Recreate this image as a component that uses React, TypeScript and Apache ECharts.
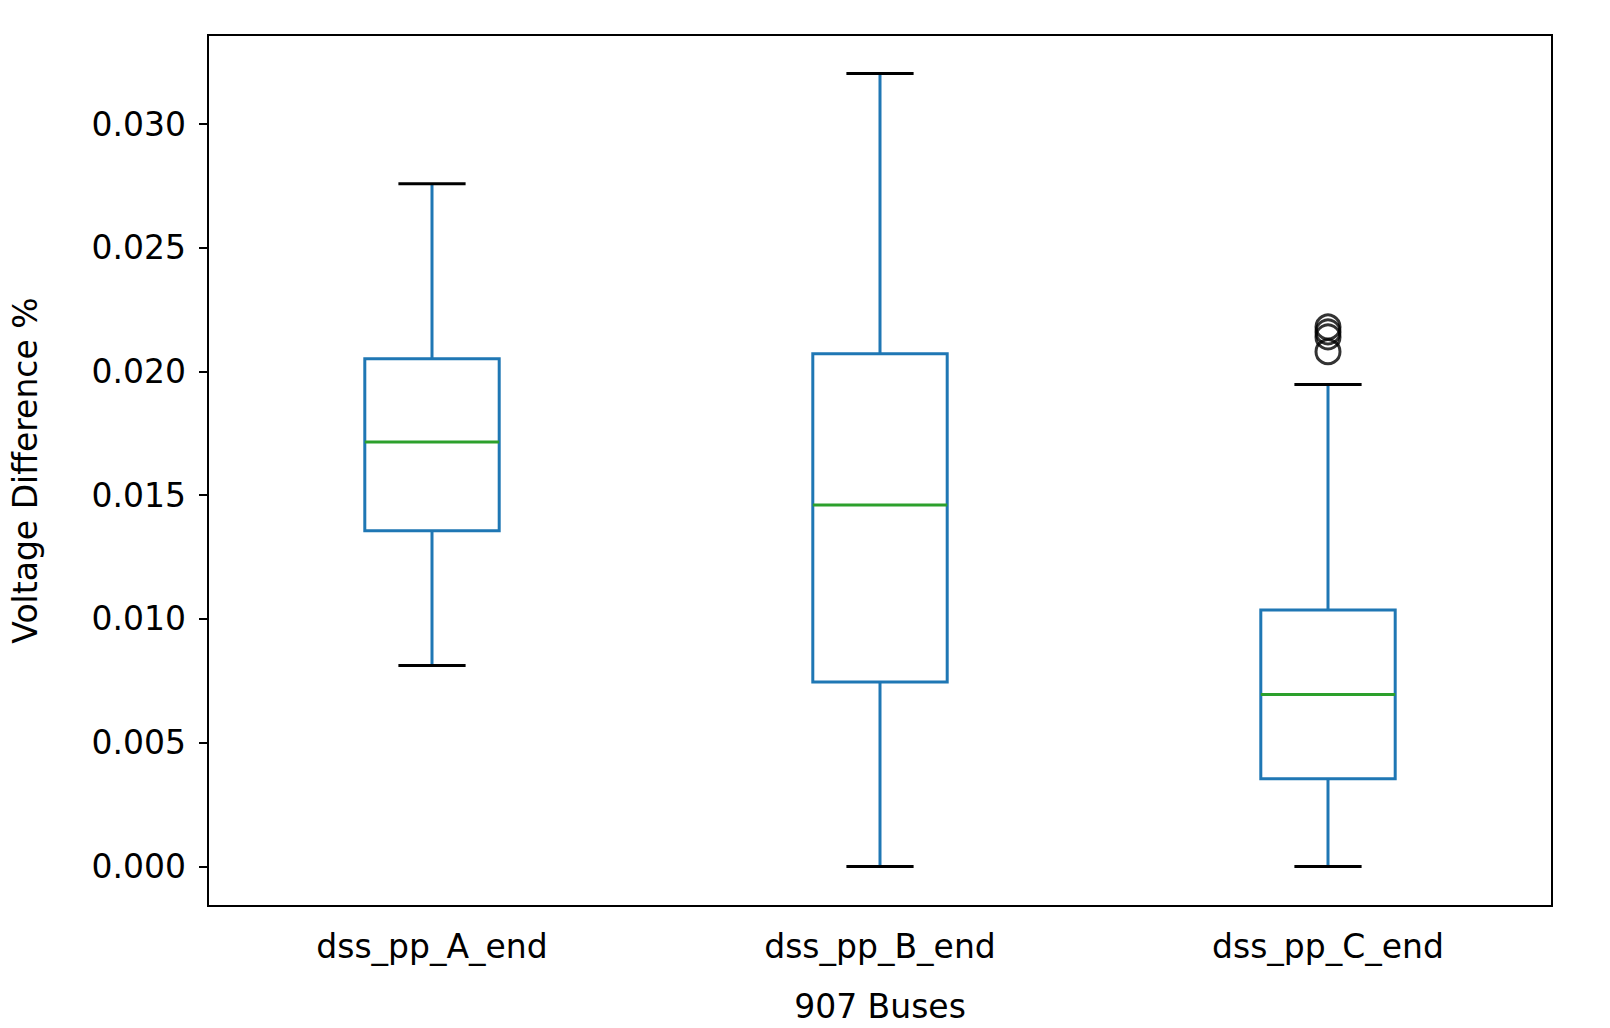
import React, { useEffect, useRef } from 'react';
import * as echarts from 'echarts';

const categories = ['dss_pp_A_end', 'dss_pp_B_end', 'dss_pp_C_end'];
// [min, q1, median, q3, max]
const boxStats = [
  [0.00812, 0.01357, 0.01715, 0.02052, 0.02759],
  [0.0, 0.00745, 0.01461, 0.02072, 0.03204],
  [0.0, 0.00354, 0.00695, 0.01036, 0.01948],
];
const outliers = [
  [2, 0.0208],
  [2, 0.0214],
  [2, 0.0216],
  [2, 0.0218],
];
const yTicks = [0, 0.005, 0.01, 0.015, 0.02, 0.025, 0.03];

const App: React.FC = () => {
  const chartRef = useRef<HTMLDivElement>(null);

  useEffect(() => {
    if (!chartRef.current) return;
    const chart = echarts.init(chartRef.current, null, { renderer: 'svg' });
    const font = 'DejaVu Sans';

    const renderBox = (params: any, api: any) => {
      const i = api.value(0);
      const [lo, q1, med, q3, hi] = [1, 2, 3, 4, 5].map((k) => api.value(k));
      const x = api.coord([i, lo])[0];
      const band = api.size([1, 0])[0];
      const w = band * 0.3;
      const capW = w / 2;
      const y = (v: number) => api.coord([i, v])[1];
      const blue = { stroke: '#1f77b4', lineWidth: 3, fill: 'none' };
      const black = { stroke: '#000', lineWidth: 3 };
      return {
        type: 'group',
        children: [
          { type: 'rect', shape: { x: x - w / 2, y: y(q3), width: w, height: y(q1) - y(q3) }, style: { ...blue } },
          { type: 'line', shape: { x1: x, y1: y(q3), x2: x, y2: y(hi) }, style: blue },
          { type: 'line', shape: { x1: x, y1: y(q1), x2: x, y2: y(lo) }, style: blue },
          { type: 'line', shape: { x1: x - capW / 2, y1: y(hi), x2: x + capW / 2, y2: y(hi) }, style: black },
          { type: 'line', shape: { x1: x - capW / 2, y1: y(lo), x2: x + capW / 2, y2: y(lo) }, style: black },
          { type: 'line', shape: { x1: x - w / 2, y1: y(med), x2: x + w / 2, y2: y(med) }, style: { stroke: '#2ca02c', lineWidth: 3 } },
        ],
      };
    };

    chart.setOption({
      animation: false,
      grid: { left: 208, right: 58, top: 35, bottom: 122, show: true, borderColor: '#000', borderWidth: 2, backgroundColor: '#fff' },
      xAxis: {
        type: 'category',
        data: categories,
        name: '907 Buses',
        nameLocation: 'middle',
        nameGap: 84,
        nameTextStyle: { fontFamily: font, fontSize: 33, color: '#000' },
        axisLine: { onZero: false, lineStyle: { color: '#000', width: 2 } },
        axisTick: { alignWithLabel: true, length: 9, lineStyle: { color: '#000', width: 2 } },
        axisLabel: { fontFamily: font, fontSize: 33, color: '#000', margin: 24 },
      },
      yAxis: {
        type: 'value',
        min: -0.0016,
        max: 0.0336,
        name: 'Voltage Difference %',
        nameLocation: 'middle',
        nameGap: 166,
        nameTextStyle: { fontFamily: font, fontSize: 33, color: '#000' },
        splitLine: { show: false },
        axisLine: { show: true, lineStyle: { color: '#000', width: 2 } },
        axisTick: { show: true, length: 9, lineStyle: { color: '#000', width: 2 }, customValues: yTicks },
        axisLabel: {
          fontFamily: font, fontSize: 33, color: '#000', margin: 22,
          customValues: yTicks,
          formatter: (v: number) => v.toFixed(3),
        },
      },
      series: [
        {
          type: 'custom',
          renderItem: renderBox,
          data: boxStats.map((s, i) => [i, ...s]),
          encode: { x: 0, y: [1, 2, 3, 4, 5] },
        },
        {
          type: 'scatter',
          data: outliers,
          symbol: 'circle',
          symbolSize: 24,
          itemStyle: { color: 'rgba(0,0,0,0)', borderColor: '#000', borderWidth: 3 },
        },
      ],
    });

    return () => chart.dispose();
  }, []);

  return (
    <div
      ref={chartRef}
      style={{ position: 'absolute', left: 0, top: 0, width: 1610, height: 1028, background: '#fff' }}
    />
  );
};

export default App;
